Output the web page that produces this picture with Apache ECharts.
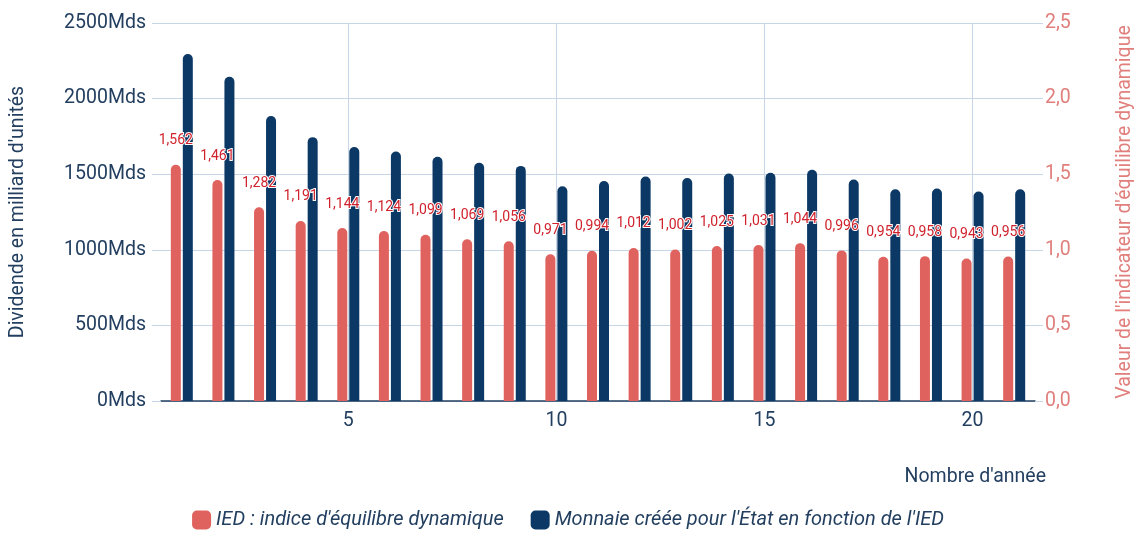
<!DOCTYPE html>
<html>
<head>
<meta charset="utf-8">
<script src="https://cdn.jsdelivr.net/npm/echarts@6/dist/echarts.min.js"></script>
<style>
html,body{margin:0;padding:0;background:#fff;}
#chart{width:1136px;height:537px;}
</style>
</head>
<body>
<div id="chart"></div>
<script>
const years = ['1','2','3','4','5','6','7','8','9','10','11','12','13','14','15','16','17','18','19','20','21'];
const iedValues = [1.562,1.461,1.282,1.191,1.144,1.124,1.099,1.069,1.056,0.971,0.994,1.012,1.002,1.025,1.031,1.044,0.996,0.954,0.958,0.943,0.956];
const monnaieValues = [2295,2145,1885,1745,1680,1650,1615,1575,1555,1420,1455,1485,1475,1505,1510,1530,1465,1400,1405,1385,1400];
const leftTicks = {min:0, max:2500, interval:500};
const rightTicks = {min:0, max:2.5, interval:0.5};
const seriesNames = ["IED : indice d'équilibre dynamique", "Monnaie créée pour l'État en fonction de l'IED"];

const navy = '#233f60';
const red = '#e0625e';
const blue = '#0b3864';
const pink = '#e07f7c';
const gridColor = '#c7d6e6';
const fs = 19.5;
const showEvery5 = (i) => (i + 1) % 5 === 0;

const chart = echarts.init(document.getElementById('chart'), null, {renderer:'canvas'});
chart.setOption({
  animation:false,
  textStyle:{fontFamily:'Roboto'},
  grid:{left:161, right:101, top:23, bottom:136, containLabel:false, outerBoundsMode:'none'},
  legend:{
    bottom:2, left:'center',
    icon:'roundRect', itemWidth:19, itemHeight:19, itemGap:27,
    textStyle:{fontSize:20, fontStyle:'italic', color:navy, fontFamily:'Roboto'},
    data:seriesNames
  },
  xAxis:{
    type:'category', data:years,
    name:"Nombre d'année", nameLocation:'end', nameGap:11,
    nameTextStyle:{fontSize:fs, color:navy, align:'right', verticalAlign:'top', padding:[66,0,0,0]},
    axisLine:{show:true, lineStyle:{color:navy, width:1.5}},
    axisTick:{show:false},
    axisLabel:{interval:showEvery5, fontSize:fs, color:navy, margin:10},
    splitLine:{show:true, interval:showEvery5, alignWithLabel:true, lineStyle:{color:gridColor, width:1}}
  },
  yAxis:[
    {
      type:'value', min:leftTicks.min, max:leftTicks.max, interval:leftTicks.interval,
      name:"Dividende en milliard d'unités", nameLocation:'middle', nameGap:133,
      nameTextStyle:{fontSize:fs, color:navy},
      axisLine:{show:false},
      axisTick:{show:true, length:9, lineStyle:{color:gridColor}},
      axisLabel:{fontSize:fs, color:navy, margin:15, formatter:(v)=>v+'Mds'},
      splitLine:{show:true, lineStyle:{color:gridColor, width:1}}
    },
    {
      type:'value', min:rightTicks.min, max:rightTicks.max, interval:rightTicks.interval,
      name:"Valeur de l'indicateur d'équilibre dynamique", nameLocation:'middle', nameGap:80,
      nameTextStyle:{fontSize:fs, color:pink},
      axisLine:{show:false},
      axisTick:{show:true, length:8, lineStyle:{color:gridColor}},
      axisLabel:{fontSize:fs, color:pink, margin:10, formatter:(v)=>v.toFixed(1).replace('.',',')},
      splitLine:{show:false}
    }
  ],
  series:[
    {
      name:seriesNames[0], type:'bar', yAxisIndex:1, data:iedValues,
      barWidth:10, barGap:'20%',
      itemStyle:{color:red, borderRadius:[5,5,0,0]},
      label:{
        show:true, position:'top', distance:17,
        fontSize:14, color:'#d0222c', textBorderColor:'#fff', textBorderWidth:2,
        formatter:(p)=>p.value.toFixed(3).replace('.',',')
      },
      z:3
    },
    {
      name:seriesNames[1], type:'bar', yAxisIndex:0, data:monnaieValues,
      barWidth:10,
      itemStyle:{color:blue, borderRadius:[5,5,0,0]},
      z:2
    }
  ]
});
</script>
</body>
</html>
